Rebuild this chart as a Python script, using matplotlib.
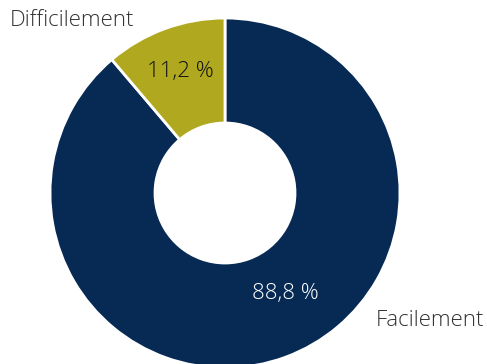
import numpy as np
import matplotlib.pyplot as plt

labels = ['Facilement', 'Difficilement']
values = [88.8, 11.2]
pct_text = ['88,8 %', '11,2 %']
colors = ['#072a55', '#b0a91f']
pct_colors = ['white', '#111111']

plt.rcParams['font.family'] = ['Open Sans', 'DejaVu Sans']

W, H = 487, 364
fig = plt.figure(figsize=(W / 100, H / 100), dpi=100)
ax = fig.add_axes([0, 0, 1, 1])

cx, cy, R = 225, H - 193, 175
wedges, _ = ax.pie(values, colors=colors, startangle=90, counterclock=False,
                   radius=R, center=(cx, cy), frame=True,
                   wedgeprops=dict(width=R - 70, edgecolor='white', linewidth=2))
ax.set_xlim(0, W)
ax.set_ylim(0, H)
ax.set_aspect('equal')
ax.axis('off')

# percentage labels inside the ring
pct_pos = [(285, H - 293), (180, H - 72)]
for (x, y), t, c in zip(pct_pos, pct_text, pct_colors):
    ax.text(x, y, t, color=c, fontsize=16, ha='center', va='center', fontweight='light')

# category labels outside
ax.text(430, H - 320, labels[0], color='#333333', fontsize=16, ha='center', va='center',
        fontweight='light')
ax.text(72, H - 20, labels[1], color='#333333', fontsize=16, ha='center', va='center',
        fontweight='light')

fig.savefig('out.png', dpi=100)
